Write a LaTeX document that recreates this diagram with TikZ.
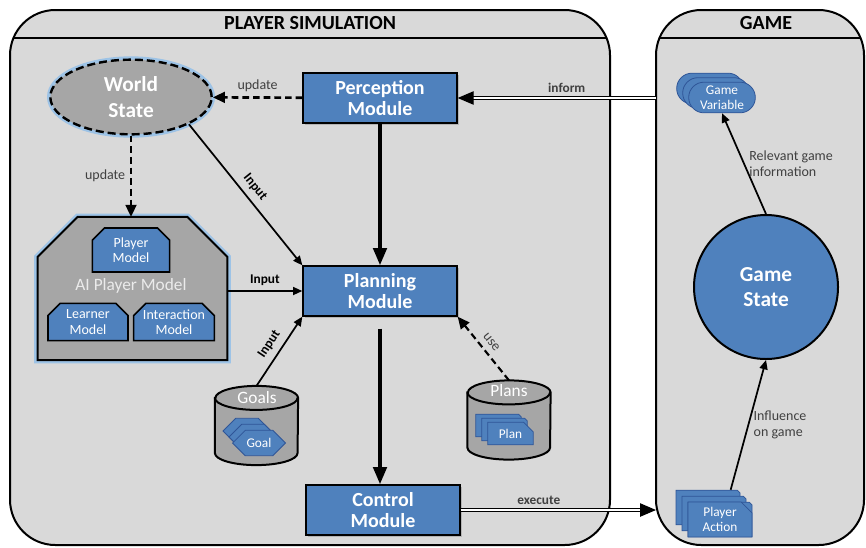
\documentclass[tikz,border=0pt]{standalone}
\usepackage{fontspec}
\setmainfont{Carlito}
\usepackage{xcolor}
\usepackage{tikz}
\usetikzlibrary{arrows.meta, positioning, shapes.geometric, shapes.misc, shapes.symbols, shadows, calc}

\definecolor{panelgray}{RGB}{217,217,217}
\definecolor{boxgray}{RGB}{166,166,166}
\definecolor{modblue}{RGB}{79,129,189}
\definecolor{darkblue}{RGB}{47,85,151}
\definecolor{glowblue}{RGB}{157,195,230}
\definecolor{txtgray}{RGB}{64,64,64}

\tikzset{
  panel/.style={draw=black, line width=1.5pt, fill=panelgray, rounded corners=34pt},
  module/.style={rectangle, draw=black, line width=1.5pt, fill=modblue, text=white,
    font=\fontsize{15}{16}\selectfont\bfseries, align=center,
    minimum width=115pt, minimum height=37pt,
    drop shadow={opacity=0.4, shadow xshift=1.5pt, shadow yshift=-1.5pt}},
  submodel/.style={chamfered rectangle, chamfered rectangle corners={north west, north east},
    chamfered rectangle xsep=6pt, draw=black, line width=1.2pt, fill=modblue, text=white,
    font=\fontsize{10.5}{11.5}\selectfont, align=center, inner sep=1pt},
  item/.style={draw=darkblue, line width=0.6pt, fill=modblue, text=white,
    font=\fontsize{10}{11}\selectfont, align=center, inner sep=1pt},
  storebox/.style={minimum width=62pt, minimum height=59pt, inner sep=0pt},
  cyl/.style={draw=black, line width=1.5pt, fill=boxgray},
  glow/.style={preaction={draw=glowblue, line width=5pt, solid}},
  thickarrow/.style={line width=2.8pt, -{Triangle[length=13pt, width=10pt]}},
  thinarrow/.style={line width=1.3pt, -{Triangle[length=7pt, width=6pt]}},
  dasharrow/.style={line width=2pt, dash pattern=on 5pt off 3pt, -{Triangle[length=9pt, width=8pt]}},
  twoline/.style={double=white, double distance=1.2pt, line width=1pt, -{Triangle[length=12pt, width=10pt]}},
  lbl/.style={font=\fontsize{10.5}{12}\selectfont, text=txtgray},
  blbl/.style={font=\fontsize{10}{12}\selectfont\bfseries, text=txtgray}
}

\begin{document}
\begin{tikzpicture}[x=0.75pt, y=-0.75pt]
\useasboundingbox (0,0) rectangle (866,547);
% Panels
\draw[panel] (10,10) rectangle (610,545);
\draw[panel] (656,10) rectangle (864,545);
\begin{scope}
  \clip[rounded corners=34pt] (10,10) rectangle (610,545);
  \draw[line width=1.5pt] (0,38) -- (866,38);
\end{scope}
\begin{scope}
  \clip[rounded corners=34pt] (656,10) rectangle (864,545);
  \draw[line width=1.5pt] (0,38) -- (866,38);
\end{scope}
\node[font=\fontsize{15}{18}\selectfont\bfseries] (simtitle) at (310,23) {PLAYER SIMULATION};
\node[font=\fontsize{15}{18}\selectfont\bfseries] (gametitle) at (766,23) {GAME};

% World state
\node[ellipse, draw=black, line width=1.8pt, dash pattern=on 6pt off 3pt, glow, fill=boxgray,
  minimum width=121pt, minimum height=56pt, text=white,
  font=\fontsize{16}{19}\selectfont\bfseries, align=center] (world) at (131,97) {World\\State};

% Modules
\node[module] (perc) at (380,98) {Perception\\Module};
\node[module] (plan) at (380,291) {Planning\\Module};
\node[module] (ctrl) at (383,510) {Control\\Module};

% AI player model
\node[minimum width=142pt, minimum height=107pt, inner sep=0pt] (aipm) at (132.5,288.5) {};
\draw[glow, draw=black, line width=1.5pt, fill=boxgray] (aipm.south west)
  -- ([yshift=-30pt]aipm.north west) -- ([xshift=30pt]aipm.north west)
  -- ([xshift=-30pt]aipm.north east) -- ([yshift=-30pt]aipm.north east)
  -- (aipm.south east) -- cycle;
\node[text=white!92!black, font=\fontsize{13}{15}\selectfont] (aipmlabel) at (131,286) {AI Player Model};
\node[submodel, minimum width=58pt, minimum height=33pt] (pmodel) at (131,250) {Player\\Model};
\node[submodel, minimum width=60pt, minimum height=28pt] (lmodel) at (88,322) {Learner\\Model};
\node[submodel, minimum width=58pt, minimum height=28pt] (imodel) at (174,322) {Interaction\\Model};

% Goals
\node[storebox] (goals) at (256.5,425.5) {};
\draw[cyl] ([yshift=-9pt]goals.north west) -- ([yshift=9pt]goals.south west)
  arc[start angle=180, end angle=360, x radius=31pt, y radius=9pt]
  -- ([yshift=-9pt]goals.north east)
  arc[start angle=0, end angle=180, x radius=31pt, y radius=9pt] -- cycle;
\draw[line width=1.5pt] ([yshift=-9pt]goals.north west) arc[start angle=180, end angle=360, x radius=31pt, y radius=9pt];
\node[text=white, font=\fontsize{13}{15}\selectfont] (goalslbl) at (257,398) {Goals};
\foreach \i in {2,1}
  \node[item, signal, signal to=east and west, minimum width=36pt, minimum height=19pt]
    (goal\i) at ($(259,443)+(-\i*6,-\i*6)$) {};
\node[item, signal, signal to=east and west, minimum width=36pt, minimum height=19pt] (goal) at (259,443) {Goal};

% Plans
\node[storebox] (plans) at (509,420) {};
\draw[cyl] ([yshift=-9pt]plans.north west) -- ([yshift=9pt]plans.south west)
  arc[start angle=180, end angle=360, x radius=31pt, y radius=9pt]
  -- ([yshift=-9pt]plans.north east)
  arc[start angle=0, end angle=180, x radius=31pt, y radius=9pt] -- cycle;
\draw[line width=1.5pt] ([yshift=-9pt]plans.north west) arc[start angle=180, end angle=360, x radius=31pt, y radius=9pt];
\node[text=white, font=\fontsize{13}{15}\selectfont] (planslbl) at (509,391) {Plans};
\foreach \i in {2,1}
  \node[item, chamfered rectangle, chamfered rectangle corners=north east, chamfered rectangle xsep=4pt,
    minimum width=34pt, minimum height=17pt] (plan\i) at ($(510.5,433.5)+(-\i*6,-\i*4)$) {};
\node[item, chamfered rectangle, chamfered rectangle corners=north east, chamfered rectangle xsep=4pt,
  minimum width=34pt, minimum height=17pt] (planitem) at (510.5,433.5) {Plan};

% Game side
\foreach \i in {2,1}
  \node[item, rounded rectangle, minimum width=52pt, minimum height=23pt] (gvar\i) at ($(722,97.5)+(-\i*6,-\i*4.5)$) {};
\node[item, rounded rectangle, minimum width=52pt, minimum height=23pt] (gvar) at (722,97.5) {Game\\Variable};
\node[circle, draw=black, line width=1.5pt, fill=modblue, minimum size=108pt, text=white,
  font=\fontsize{16}{19}\selectfont\bfseries, align=center] (gstate) at (766,287) {Game\\State};
\foreach \i in {3,2,1}
  \node[item, chamfered rectangle, chamfered rectangle corners=north east, chamfered rectangle xsep=5pt,
    minimum width=48pt, minimum height=26pt] (pact\i) at ($(720,519.5)+(-\i*6+6,-\i*6+6)$) {};
\node[item, chamfered rectangle, chamfered rectangle corners=north east, chamfered rectangle xsep=5pt,
  minimum width=48pt, minimum height=26pt] (pact) at (720,519.5) {Player\\Action};

% Connectors
\draw[dasharrow] (perc) -- node[lbl, above] {update} (world);
\draw[dasharrow] (world.south) -- node[lbl, left] {update} (world.south |- aipm.north);
\draw[thinarrow] (world.south east) -- node[blbl, text=black, sloped, above=1pt] {Input} (plan.north west);
\draw[thickarrow] (perc) -- (plan);
\draw[thinarrow] (aipm.east |- plan) -- node[blbl, text=black, above] {Input} (plan);
\draw[thinarrow] (goals.north) -- node[blbl, text=black, sloped, above=1pt] {Input} (plan.south west);
\draw[dasharrow, line width=1.6pt] (plans.north) -- node[lbl, sloped, above=1pt] {use} (plan.south east);
\draw[thickarrow] ([yshift=-9pt]plan.south) -- (plan.south |- ctrl.north);
\coordinate (gamein) at (656,98);
\draw[twoline] (gamein) -- node[blbl, above, pos=0.45] {inform} (perc);
\coordinate (gameout) at (656,510);
\draw[twoline] (ctrl) -- node[blbl, above, pos=0.4] {execute} (gameout);
\draw[thinarrow] (gstate.north) -- node[lbl, right, align=left] {Relevant game\\information} (gvar.south);
\draw[thinarrow] ([xshift=17pt]pact3.north) -- node[lbl, right, align=left] {Influence\\on game} (gstate.south);
\end{tikzpicture}
\end{document}
